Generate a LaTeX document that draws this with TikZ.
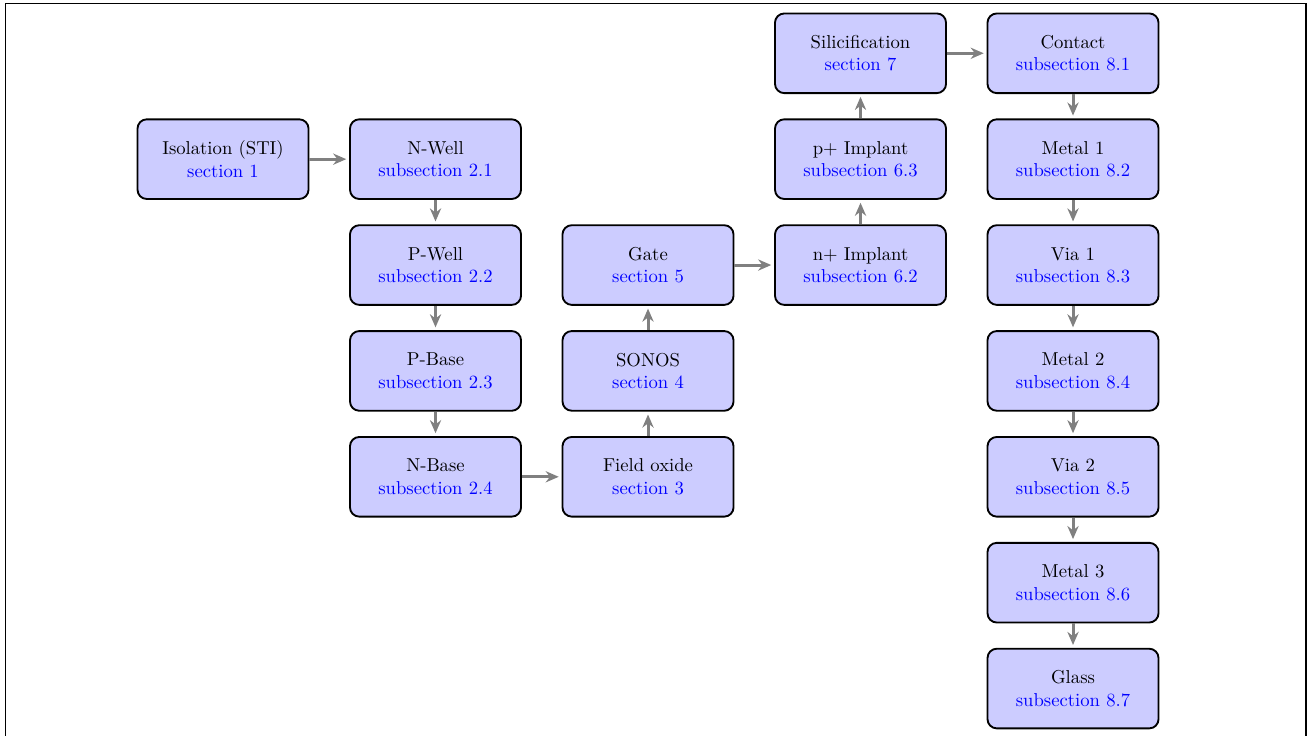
\documentclass[tikz,border=0pt]{standalone}
\usetikzlibrary{arrows.meta}
\begin{document}
\begin{tikzpicture}[x=1cm,y=0.9965cm,
  stage/.style={draw=black, line width=1pt, fill=blue!20, rounded corners=5pt,
    minimum width=3.22cm, minimum height=1.5cm, align=center, inner sep=2pt},
  flow/.style={draw=gray, line width=1.6pt, -{Stealth[length=7pt,width=6pt]}, shorten >=1.5pt}]
% page area and frame
\useasboundingbox (-4.198cm,1.003cm) rectangle (20.442cm,-12.851cm);
\draw[line width=0.6pt] (-4.095cm,-12.9cm) -- (-4.095cm,0.93cm) -- (20.385cm,0.93cm) -- (20.385cm,-12.9cm);
% process stages
\node[stage] (sti)   at (0,-2)  {Isolation (STI)\\\textcolor{blue}{section 1}};
\node[stage] (nwell) at (4,-2)  {N-Well\\\textcolor{blue}{subsection 2.1}};
\node[stage] (pwell) at (4,-4)  {P-Well\\\textcolor{blue}{subsection 2.2}};
\node[stage] (pbase) at (4,-6)  {P-Base\\\textcolor{blue}{subsection 2.3}};
\node[stage] (nbase) at (4,-8)  {N-Base\\\textcolor{blue}{subsection 2.4}};
\node[stage] (fox)   at (8,-8)  {Field oxide\\\textcolor{blue}{section 3}};
\node[stage] (sonos) at (8,-6)  {SONOS\\\textcolor{blue}{section 4}};
\node[stage] (gate)  at (8,-4)  {Gate\\\textcolor{blue}{section 5}};
\node[stage] (nplus) at (12,-4) {n+ Implant\\\textcolor{blue}{subsection 6.2}};
\node[stage] (pplus) at (12,-2) {p+ Implant\\\textcolor{blue}{subsection 6.3}};
\node[stage] (silic) at (12,0)  {Silicification\\\textcolor{blue}{section 7}};
\node[stage] (cont)  at (16,0)  {Contact\\\textcolor{blue}{subsection 8.1}};
\node[stage] (met1)  at (16,-2) {Metal 1\\\textcolor{blue}{subsection 8.2}};
\node[stage] (via1)  at (16,-4) {Via 1\\\textcolor{blue}{subsection 8.3}};
\node[stage] (met2)  at (16,-6) {Metal 2\\\textcolor{blue}{subsection 8.4}};
\node[stage] (via2)  at (16,-8) {Via 2\\\textcolor{blue}{subsection 8.5}};
\node[stage] (met3)  at (16,-10) {Metal 3\\\textcolor{blue}{subsection 8.6}};
\node[stage] (glass) at (16,-12) {Glass\\\textcolor{blue}{subsection 8.7}};
% process flow
\draw[flow] (sti) -- (nwell);
\draw[flow] (nwell) -- (pwell);
\draw[flow] (pwell) -- (pbase);
\draw[flow] (pbase) -- (nbase);
\draw[flow] (nbase) -- (fox);
\draw[flow] (fox) -- (sonos);
\draw[flow] (sonos) -- (gate);
\draw[flow] (gate) -- (nplus);
\draw[flow] (nplus) -- (pplus);
\draw[flow] (pplus) -- (silic);
\draw[flow] (silic) -- (cont);
\draw[flow] (cont) -- (met1);
\draw[flow] (met1) -- (via1);
\draw[flow] (via1) -- (met2);
\draw[flow] (met2) -- (via2);
\draw[flow] (via2) -- (met3);
\draw[flow] (met3) -- (glass);
\end{tikzpicture}
\end{document}
